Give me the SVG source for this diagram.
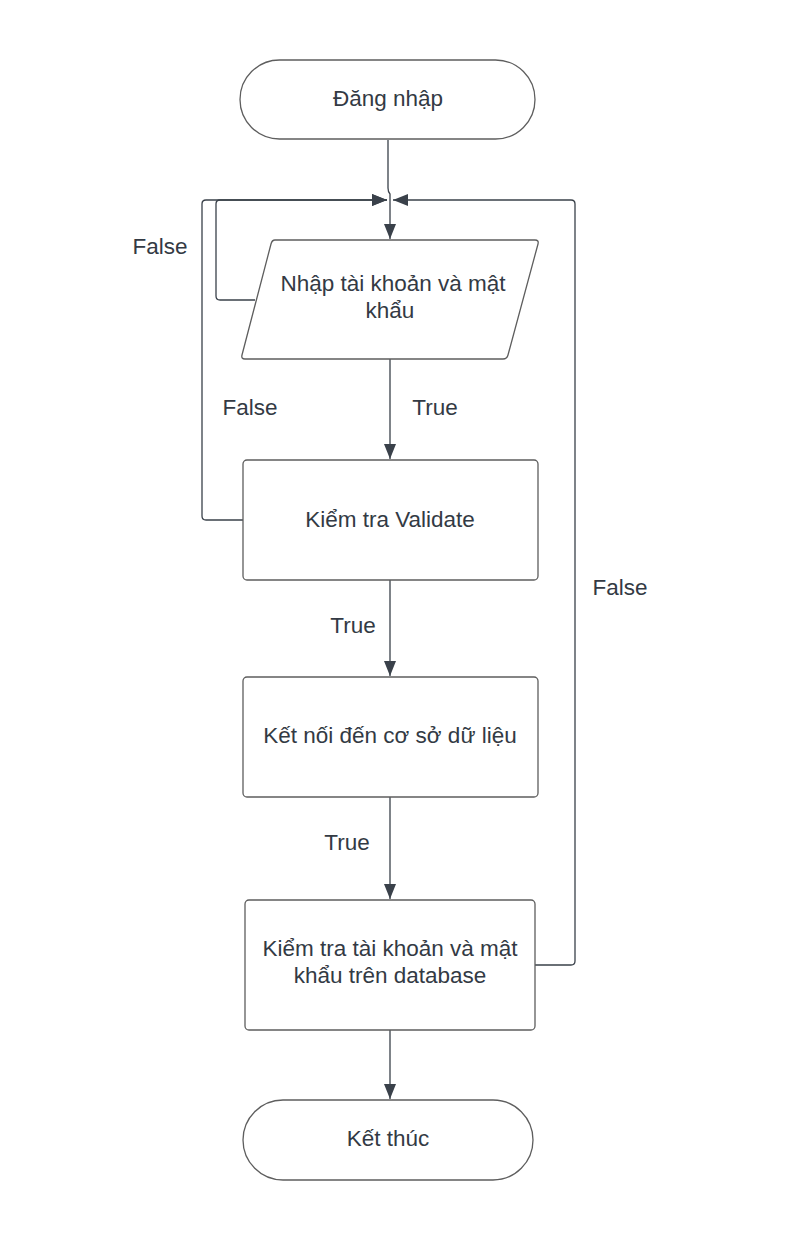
<svg xmlns="http://www.w3.org/2000/svg" width="789" height="1240" viewBox="0 0 789 1240">
<defs>
<style>
.shape{fill:#ffffff;stroke:#5e5e5e;stroke-width:1.3}
.conn{fill:none;stroke:#3a414a;stroke-width:1.3}
.t{font-family:"Liberation Sans",Arial,sans-serif;font-size:22.5px;fill:#333a44;text-anchor:middle}
</style>
<marker id="arr" markerUnits="userSpaceOnUse" markerWidth="16" markerHeight="14" refX="15" refY="6" orient="auto">
<path d="M0,0 L15,6 L0,12 Z" fill="#3a414a"/>
</marker>
</defs>
<rect width="789" height="1240" fill="#ffffff"/>
<g id="connectors">
<path class="conn" d="M388,140 L388,188 Q388,192 390,194 L390,239" marker-end="url(#arr)"/>
<path class="conn" d="M255,300 L220,300 Q216,300 216,296 L216,204 Q216,200 220,200 L387,200" marker-end="url(#arr)"/>
<path class="conn" d="M243,520 L206,520 Q202,520 202,516 L202,204 Q202,200 206,200 L387,200" marker-end="url(#arr)"/>
<path class="conn" d="M535,965 L571,965 Q575,965 575,961 L575,204 Q575,200 571,200 L393,200" marker-end="url(#arr)"/>
<path class="conn" d="M390,359 L390,459" marker-end="url(#arr)"/>
<path class="conn" d="M390,580 L390,676" marker-end="url(#arr)"/>
<path class="conn" d="M390,797 L390,899" marker-end="url(#arr)"/>
<path class="conn" d="M390,1030 L390,1099" marker-end="url(#arr)"/>
</g>
<g id="labels">
<text class="t" x="160" y="254">False</text>
<text class="t" x="250" y="415">False</text>
<text class="t" x="435" y="415">True</text>
<text class="t" x="353" y="633">True</text>
<text class="t" x="347" y="850">True</text>
<text class="t" x="620" y="595">False</text>
</g>
<g id="start">
<rect class="shape" x="240" y="60" width="295" height="79" rx="39.5" ry="39.5"/>
<text class="t" x="388" y="106">Đăng nhập</text>
</g>
<g id="input">
<path class="shape" d="M275,240 L535,240 Q539,240 538,244 L508,355 Q507,359 503,359 L245,359 Q241,359 242,355 L271,244 Q272,240 275,240 Z"/>
<text class="t" x="393" y="291">Nhập tài khoản và mật</text>
<text class="t" x="390" y="318">khẩu</text>
</g>
<g id="validate">
<rect class="shape" x="243" y="460" width="295" height="120" rx="4"/>
<text class="t" x="390" y="527">Kiểm tra Validate</text>
</g>
<g id="connect">
<rect class="shape" x="243" y="677" width="295" height="120" rx="4"/>
<text class="t" x="390" y="743">Kết nối đến cơ sở dữ liệu</text>
</g>
<g id="check">
<rect class="shape" x="245" y="900" width="290" height="130" rx="4"/>
<text class="t" x="390" y="956">Kiểm tra tài khoản và mật</text>
<text class="t" x="390" y="983">khẩu trên database</text>
</g>
<g id="end">
<rect class="shape" x="243" y="1100" width="290" height="80" rx="40" ry="40"/>
<text class="t" x="388" y="1146">Kết thúc</text>
</g>
</svg>
